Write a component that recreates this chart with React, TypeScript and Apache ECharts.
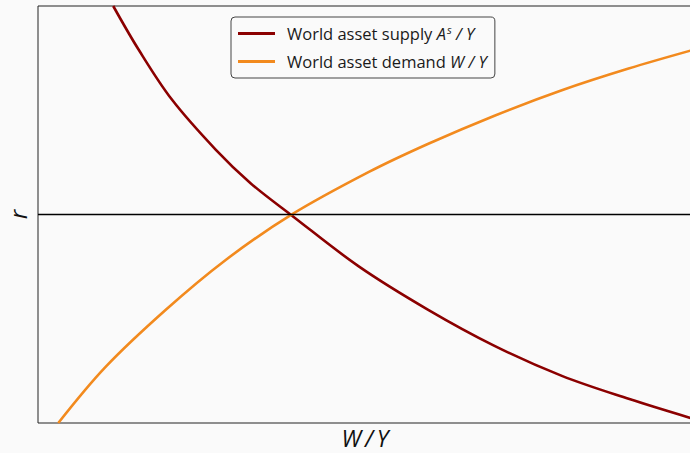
import React, { useEffect, useRef } from "react";
import * as echarts from "echarts";

// (x: W/Y, y: r, both on 0..10 scales)
const supplyX = [1.15, 1.54, 2.05, 2.72, 3.25, 3.87, 4.91, 5.96, 6.98, 8.01, 9.03, 10.0];
const supplyY = [10.0, 8.95, 7.75, 6.55, 5.75, 4.99, 3.75, 2.72, 1.85, 1.13, 0.58, 0.11];
const demandX = [0.31, 1.03, 1.95, 2.87, 3.87, 5.06, 5.96, 6.98, 8.01, 9.03, 10.0];
const demandY = [0.0, 1.34, 2.71, 3.91, 4.99, 6.02, 6.69, 7.37, 7.98, 8.5, 8.94];
const equilibriumR = 5;
const seriesNames = ["World asset supply", "World asset demand"];

export default function App() {
  const ref = useRef<HTMLDivElement>(null);
  useEffect(() => {
    if (!ref.current) return;
    const chart = echarts.init(ref.current, null, { renderer: "svg" });
    const font = "Open Sans";
    chart.setOption({
      animation: false,
      backgroundColor: "#fafafa",
      grid: {
        left: 38,
        top: 6,
        right: -2,
        bottom: 30,
        outerBoundsMode: "none",
        containLabel: false,
        show: true,
        borderColor: "#222",
        borderWidth: 1,
        backgroundColor: "#fafafa",
      },
      xAxis: {
        type: "value",
        min: 0,
        max: 10,
        name: "W\u2009/\u2009Y",
        nameLocation: "middle",
        nameGap: 2,
        nameTextStyle: {
          fontFamily: font,
          fontStyle: "italic",
          fontSize: 23,
          lineHeight: 26,
          color: "#111",
          verticalAlign: "top",
        },
        axisLine: { show: false },
        axisTick: { show: false },
        axisLabel: { show: false },
        splitLine: { show: false },
      },
      yAxis: {
        type: "value",
        min: 0,
        max: 10,
        name: "r",
        nameLocation: "middle",
        nameGap: 9,
        nameRotate: 90,
        nameTextStyle: {
          fontFamily: font,
          fontStyle: "italic",
          fontSize: 24,
          color: "#111",
        },
        axisLine: { show: false },
        axisTick: { show: false },
        axisLabel: { show: false },
        splitLine: { show: false },
      },
      legend: {
        left: 231,
        top: 17,
        orient: "vertical",
        backgroundColor: "#fafafa",
        borderColor: "#444",
        borderWidth: 1,
        borderRadius: 4,
        padding: [7, 8, 7, 7],
        itemGap: 9,
        itemWidth: 37,
        itemHeight: 3,
        icon: "rect",
        formatter: (name: string) =>
          name === seriesNames[0]
            ? name + " {it|A}{sup|s}{it| / Y}"
            : name + " {it|W / Y}",
        textStyle: {
          fontFamily: font,
          fontSize: 16.5,
          lineHeight: 19,
          color: "#1a1a1a",
          padding: [0, 0, 0, 7],
          rich: {
            it: { fontFamily: font, fontStyle: "italic", fontSize: 16.5, lineHeight: 19, color: "#1a1a1a" },
            sup: { fontFamily: font, fontStyle: "italic", fontSize: 11, color: "#1a1a1a", verticalAlign: "bottom", padding: [0, 0, 8, 1] },
          },
        },
        data: seriesNames,
      },
      series: [
        {
          name: seriesNames[0],
          type: "line",
          data: supplyX.map((x, i) => [x, supplyY[i]]),
          smooth: 0.35,
          showSymbol: false,
          symbol: "none",
          lineStyle: { color: "#8b0000", width: 2.6 },
          itemStyle: { color: "#8b0000" },
          clip: true,
          z: 3,
          markLine: {
            silent: true,
            symbol: "none",
            label: { show: false },
            lineStyle: { color: "#000", width: 1.3, type: "solid" },
            data: [{ yAxis: equilibriumR }],
          },
        },
        {
          name: seriesNames[1],
          type: "line",
          data: demandX.map((x, i) => [x, demandY[i]]),
          smooth: 0.35,
          showSymbol: false,
          symbol: "none",
          lineStyle: { color: "#f28a1e", width: 2.6 },
          itemStyle: { color: "#f28a1e" },
          clip: true,
          z: 4,
        },
      ],
    });
    return () => chart.dispose();
  }, []);
  return (
    <div
      style={{
        position: "fixed",
        left: 0,
        top: 0,
        width: 690,
        height: 453,
        background: "#fafafa",
      }}
    >
      <div ref={ref} style={{ width: 690, height: 453 }} />
    </div>
  );
}
